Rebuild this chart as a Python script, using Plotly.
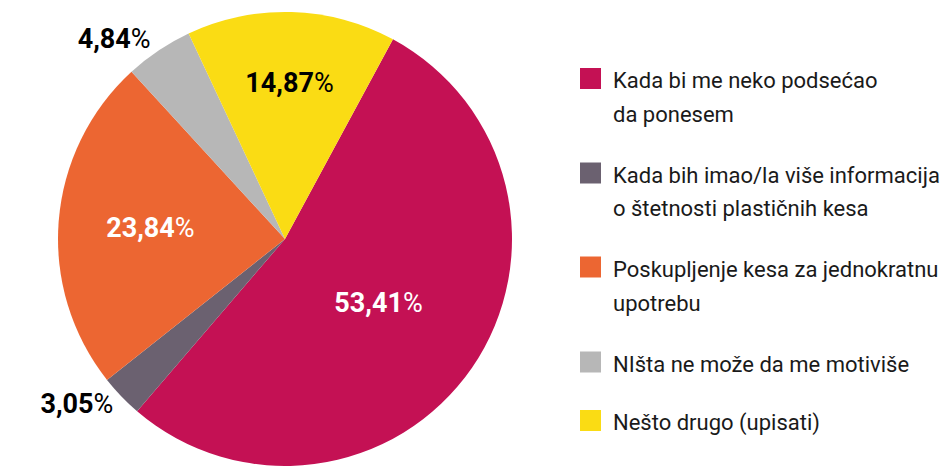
import plotly.graph_objects as go

labels = [
    "Kada bi me neko podsećao<br>da ponesem",
    "Kada bih imao/la više informacija<br>o štetnosti plastičnih kesa",
    "Poskupljenje kesa za jednokratnu<br>upotrebu",
    "NIšta ne može da me motiviše",
    "Nešto drugo (upisati)",
]
values = [53.41, 3.05, 23.84, 4.84, 14.87]
colors = ["#C41154", "#6B6170", "#EC6632", "#B7B7B7", "#FADC14"]
text_colors = ["white", "black", "white", "black", "black"]
text_positions = ["inside", "outside", "inside", "outside", "inside"]

FONT = "Roboto, sans-serif"

W, H = 951, 466
OFF = 0  # page body margin removed via post_script
M_T, M_B, M_L, M_R = 12, 0, 0, 0
PW, PH = W - M_L - M_R, H - M_T - M_B


def px(x):
    return (x - OFF - M_L) / PW


def py(y):
    return 1 - (y - OFF - M_T) / PH


fig = go.Figure()
fig.add_trace(go.Pie(
    labels=labels,
    values=values,
    sort=False,
    direction="clockwise",
    rotation=28.4,
    marker=dict(colors=colors, line=dict(width=0)),
    texttemplate="<b>%{value:.2f}</b>%",
    textposition=text_positions,
    textfont=dict(family=FONT, size=27, color=text_colors),
    insidetextorientation="horizontal",
    automargin=False,
    showlegend=False,
    hoverinfo="label+percent",
    domain=dict(x=[px(58), px(512)], y=[0, 1]),
))

# manual legend (square centres in screen pixels)
legend_y = [78.5, 173, 267, 362, 420.5]
LINE = 33.5
for lab, col, y in zip(labels, colors, legend_y):
    fig.add_shape(type="rect", xref="paper", yref="paper",
                  x0=px(580), x1=px(601), y0=py(y - 10.5), y1=py(y + 10.5),
                  fillcolor=col, line=dict(width=0))
    for k, line in enumerate(lab.split("<br>")):
        fig.add_annotation(xref="paper", yref="paper", x=px(611), y=py(y + 2.5 + k * LINE),
                           xanchor="left", yanchor="middle", align="left", showarrow=False,
                           text=line, font=dict(family=FONT, size=22, color="#1a1a1a"))

fig.update_layout(
    width=W, height=H,
    margin=dict(l=M_L, r=M_R, t=M_T, b=M_B, autoexpand=False),
    paper_bgcolor="white", plot_bgcolor="white",
    separators=",.",
)
fig.write_html(
    "out.html",
    config={"displayModeBar": False},
    post_script="document.body.style.margin='0';document.body.style.overflow='hidden';",
)
